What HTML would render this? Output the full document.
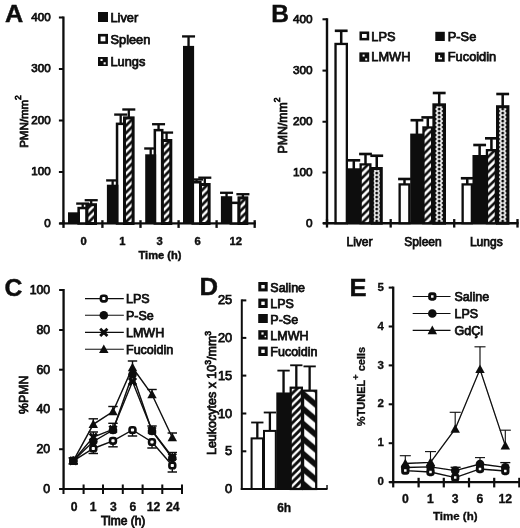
<!DOCTYPE html>
<html lang="en">
<head>
<meta charset="utf-8">
<title>Figure</title>
<style>
html,body{margin:0;padding:0;background:#fff;}
body{width:520px;height:528px;overflow:hidden;}
svg{display:block;}
svg text{font-family:"Liberation Sans", sans-serif;fill:#0a0a0a;}
</style>
</head>
<body>
<svg width="520" height="528" viewBox="0 0 520 528">
<defs>
<filter id="soft" x="-2%" y="-2%" width="104%" height="104%"><feGaussianBlur stdDeviation="0.45"/></filter>
<pattern id="hatchA" patternUnits="userSpaceOnUse" width="7.4" height="7.4">
<rect width="7.4" height="7.4" fill="#fff"/>
<path d="M-1.85 1.85L1.85 -1.85M-1.85 9.25L9.25 -1.85M5.55 9.25L9.25 5.55" stroke="#0a0a0a" stroke-width="2.75"/>
</pattern>
<pattern id="hatchB" patternUnits="userSpaceOnUse" width="7.5" height="7.5">
<rect width="7.5" height="7.5" fill="#fff"/>
<path d="M-1.875 1.875L1.875 -1.875M-1.875 9.375L9.375 -1.875M5.625 9.375L9.375 5.625" stroke="#0a0a0a" stroke-width="2.5"/>
</pattern>
<pattern id="hatchD" patternUnits="userSpaceOnUse" width="7.4" height="7.4" x="291.5" y="2">
<rect width="7.4" height="7.4" fill="#fff"/>
<path d="M-1.85 1.85L1.85 -1.85M-1.85 9.25L9.25 -1.85M5.55 9.25L9.25 5.55" stroke="#0a0a0a" stroke-width="2.8"/>
</pattern>
<pattern id="back" patternUnits="userSpaceOnUse" width="17.6" height="15" x="303" y="378.75">
<rect width="17.6" height="15" fill="#fff"/>
<path d="M-8.8 -7.5L26.4 22.5M-8.8 7.5L8.8 22.5M8.8 -7.5L26.4 7.5" stroke="#0a0a0a" stroke-width="5.6"/>
</pattern>
<pattern id="dots0" patternUnits="userSpaceOnUse" width="8" height="4" x="376.7" y="1">
<rect width="8" height="4" fill="#fff"/>
<circle cx="0" cy="0" r="1.5" fill="#0a0a0a"/><circle cx="8" cy="0" r="1.5" fill="#0a0a0a"/>
<circle cx="0" cy="4" r="1.5" fill="#0a0a0a"/><circle cx="8" cy="4" r="1.5" fill="#0a0a0a"/>
<circle cx="4" cy="2" r="1.5" fill="#0a0a0a"/>
</pattern><pattern id="dots1" patternUnits="userSpaceOnUse" width="8" height="4" x="439.2" y="1">
<rect width="8" height="4" fill="#fff"/>
<circle cx="0" cy="0" r="1.5" fill="#0a0a0a"/><circle cx="8" cy="0" r="1.5" fill="#0a0a0a"/>
<circle cx="0" cy="4" r="1.5" fill="#0a0a0a"/><circle cx="8" cy="4" r="1.5" fill="#0a0a0a"/>
<circle cx="4" cy="2" r="1.5" fill="#0a0a0a"/>
</pattern><pattern id="dots2" patternUnits="userSpaceOnUse" width="8" height="4" x="502.7" y="1">
<rect width="8" height="4" fill="#fff"/>
<circle cx="0" cy="0" r="1.5" fill="#0a0a0a"/><circle cx="8" cy="0" r="1.5" fill="#0a0a0a"/>
<circle cx="0" cy="4" r="1.5" fill="#0a0a0a"/><circle cx="8" cy="4" r="1.5" fill="#0a0a0a"/>
<circle cx="4" cy="2" r="1.5" fill="#0a0a0a"/>
</pattern>
</defs>
<rect width="520" height="528" fill="#fff"/>
<g filter="url(#soft)">
<text transform="translate(5.1 22.1) scale(1.03 1)" font-size="24.5" font-weight="bold" stroke="#0a0a0a" stroke-width="0.4">A</text>
<line x1="63.4" y1="16.5" x2="63.4" y2="224.5" stroke="#0a0a0a" stroke-width="2.3" stroke-linecap="butt"/>
<line x1="59.4" y1="223.3" x2="255.8" y2="223.3" stroke="#0a0a0a" stroke-width="2.3" stroke-linecap="butt"/>
<line x1="58.9" y1="17.5" x2="63.4" y2="17.5" stroke="#0a0a0a" stroke-width="2" stroke-linecap="butt"/>
<text x="50.6" y="20.5" font-size="11.6" text-anchor="end" font-weight="normal" stroke="#0a0a0a" stroke-width="0.75">400</text>
<line x1="58.9" y1="69" x2="63.4" y2="69" stroke="#0a0a0a" stroke-width="2" stroke-linecap="butt"/>
<text x="50.6" y="72.0" font-size="11.6" text-anchor="end" font-weight="normal" stroke="#0a0a0a" stroke-width="0.75">300</text>
<line x1="58.9" y1="120.5" x2="63.4" y2="120.5" stroke="#0a0a0a" stroke-width="2" stroke-linecap="butt"/>
<text x="50.6" y="123.5" font-size="11.6" text-anchor="end" font-weight="normal" stroke="#0a0a0a" stroke-width="0.75">200</text>
<line x1="58.9" y1="172" x2="63.4" y2="172" stroke="#0a0a0a" stroke-width="2" stroke-linecap="butt"/>
<text x="50.6" y="175.0" font-size="11.6" text-anchor="end" font-weight="normal" stroke="#0a0a0a" stroke-width="0.75">100</text>
<line x1="58.9" y1="223.5" x2="63.4" y2="223.5" stroke="#0a0a0a" stroke-width="2" stroke-linecap="butt"/>
<text x="50.6" y="226.5" font-size="11.6" text-anchor="end" font-weight="normal" stroke="#0a0a0a" stroke-width="0.75">0</text>
<line x1="63.5" y1="220.2" x2="63.5" y2="227.9" stroke="#0a0a0a" stroke-width="2.3" stroke-linecap="butt"/>
<line x1="102.4" y1="220.2" x2="102.4" y2="227.9" stroke="#0a0a0a" stroke-width="2.3" stroke-linecap="butt"/>
<line x1="140.5" y1="220.2" x2="140.5" y2="227.9" stroke="#0a0a0a" stroke-width="2.3" stroke-linecap="butt"/>
<line x1="178.6" y1="220.2" x2="178.6" y2="227.9" stroke="#0a0a0a" stroke-width="2.3" stroke-linecap="butt"/>
<line x1="216.6" y1="220.2" x2="216.6" y2="227.9" stroke="#0a0a0a" stroke-width="2.3" stroke-linecap="butt"/>
<line x1="254.7" y1="220.2" x2="254.7" y2="227.9" stroke="#0a0a0a" stroke-width="2.3" stroke-linecap="butt"/>
<text x="83.5" y="244.6" font-size="11.2" text-anchor="middle" font-weight="bold" stroke="#0a0a0a" stroke-width="0.4">0</text>
<text x="122.3" y="244.6" font-size="11.2" text-anchor="middle" font-weight="bold" stroke="#0a0a0a" stroke-width="0.4">1</text>
<text x="159.5" y="244.6" font-size="11.2" text-anchor="middle" font-weight="bold" stroke="#0a0a0a" stroke-width="0.4">3</text>
<text x="197.5" y="244.6" font-size="11.2" text-anchor="middle" font-weight="bold" stroke="#0a0a0a" stroke-width="0.4">6</text>
<text x="235.8" y="244.6" font-size="11.2" text-anchor="middle" font-weight="bold" stroke="#0a0a0a" stroke-width="0.4">12</text>
<text x="160" y="258.8" font-size="11.1" text-anchor="middle" font-weight="bold" stroke="#0a0a0a" stroke-width="0.4">Time (h)</text>
<text x="27.5" y="121.5" font-size="11.5" text-anchor="middle" font-weight="normal" stroke="#0a0a0a" stroke-width="0.75" transform="rotate(-90 27.5 121.5)">PMN/mm<tspan font-size="8.5" dy="-6.5">2</tspan></text>
<line x1="82.7" y1="207.8" x2="82.7" y2="203.6" stroke="#0a0a0a" stroke-width="2.3" stroke-linecap="butt"/>
<line x1="76.2" y1="203.6" x2="89.2" y2="203.6" stroke="#0a0a0a" stroke-width="2.3" stroke-linecap="butt"/>
<line x1="91.2" y1="204.2" x2="91.2" y2="200.2" stroke="#0a0a0a" stroke-width="2.3" stroke-linecap="butt"/>
<line x1="84.7" y1="200.2" x2="97.7" y2="200.2" stroke="#0a0a0a" stroke-width="2.3" stroke-linecap="butt"/>
<rect x="78.65" y="208.05" width="8.10" height="15.45" fill="#fff" stroke="#0a0a0a" stroke-width="2.5"/>
<rect x="68.00" y="212.30" width="12.00" height="11.20" fill="#0a0a0a"/>
<rect x="86.90" y="204.70" width="8.60" height="18.80" fill="url(#hatchA)" stroke="#0a0a0a" stroke-width="3.0"/>
<line x1="112.65" y1="185.7" x2="112.65" y2="180.4" stroke="#0a0a0a" stroke-width="2.3" stroke-linecap="butt"/>
<line x1="106.15" y1="180.4" x2="119.15" y2="180.4" stroke="#0a0a0a" stroke-width="2.3" stroke-linecap="butt"/>
<line x1="120.7" y1="123.6" x2="120.7" y2="114.6" stroke="#0a0a0a" stroke-width="2.3" stroke-linecap="butt"/>
<line x1="114.2" y1="114.6" x2="127.2" y2="114.6" stroke="#0a0a0a" stroke-width="2.3" stroke-linecap="butt"/>
<line x1="128.8" y1="117.4" x2="128.8" y2="109.5" stroke="#0a0a0a" stroke-width="2.3" stroke-linecap="butt"/>
<line x1="122.30000000000001" y1="109.5" x2="135.3" y2="109.5" stroke="#0a0a0a" stroke-width="2.3" stroke-linecap="butt"/>
<rect x="117.05" y="123.85" width="7.30" height="99.65" fill="#fff" stroke="#0a0a0a" stroke-width="2.5"/>
<rect x="106.90" y="184.70" width="11.50" height="38.80" fill="#0a0a0a"/>
<rect x="124.50" y="117.90" width="8.60" height="105.60" fill="url(#hatchA)" stroke="#0a0a0a" stroke-width="3.0"/>
<line x1="150.7" y1="155.3" x2="150.7" y2="148.5" stroke="#0a0a0a" stroke-width="2.3" stroke-linecap="butt"/>
<line x1="144.2" y1="148.5" x2="157.2" y2="148.5" stroke="#0a0a0a" stroke-width="2.3" stroke-linecap="butt"/>
<line x1="158.55" y1="129.9" x2="158.55" y2="124.2" stroke="#0a0a0a" stroke-width="2.3" stroke-linecap="butt"/>
<line x1="152.05" y1="124.2" x2="165.05" y2="124.2" stroke="#0a0a0a" stroke-width="2.3" stroke-linecap="butt"/>
<line x1="166.60000000000002" y1="140.0" x2="166.60000000000002" y2="132.6" stroke="#0a0a0a" stroke-width="2.3" stroke-linecap="butt"/>
<line x1="160.10000000000002" y1="132.6" x2="173.10000000000002" y2="132.6" stroke="#0a0a0a" stroke-width="2.3" stroke-linecap="butt"/>
<rect x="154.85" y="130.15" width="7.40" height="93.35" fill="#fff" stroke="#0a0a0a" stroke-width="2.5"/>
<rect x="145.20" y="154.30" width="11.00" height="69.20" fill="#0a0a0a"/>
<rect x="162.40" y="140.50" width="8.40" height="83.00" fill="url(#hatchA)" stroke="#0a0a0a" stroke-width="3.0"/>
<line x1="188.55" y1="46.9" x2="188.55" y2="36.4" stroke="#0a0a0a" stroke-width="2.3" stroke-linecap="butt"/>
<line x1="182.05" y1="36.4" x2="195.05" y2="36.4" stroke="#0a0a0a" stroke-width="2.3" stroke-linecap="butt"/>
<line x1="196.55" y1="182.0" x2="196.55" y2="179.5" stroke="#0a0a0a" stroke-width="2.3" stroke-linecap="butt"/>
<line x1="190.05" y1="179.5" x2="203.05" y2="179.5" stroke="#0a0a0a" stroke-width="2.3" stroke-linecap="butt"/>
<line x1="204.8" y1="184.0" x2="204.8" y2="177.7" stroke="#0a0a0a" stroke-width="2.3" stroke-linecap="butt"/>
<line x1="198.3" y1="177.7" x2="211.3" y2="177.7" stroke="#0a0a0a" stroke-width="2.3" stroke-linecap="butt"/>
<rect x="192.75" y="182.25" width="7.60" height="41.25" fill="#fff" stroke="#0a0a0a" stroke-width="2.5"/>
<rect x="183.00" y="45.90" width="11.10" height="177.60" fill="#0a0a0a"/>
<rect x="200.50" y="184.50" width="8.60" height="39.00" fill="url(#hatchA)" stroke="#0a0a0a" stroke-width="3.0"/>
<line x1="226.55" y1="197.2" x2="226.55" y2="192.8" stroke="#0a0a0a" stroke-width="2.3" stroke-linecap="butt"/>
<line x1="220.05" y1="192.8" x2="233.05" y2="192.8" stroke="#0a0a0a" stroke-width="2.3" stroke-linecap="butt"/>
<line x1="242.9" y1="197.4" x2="242.9" y2="194.2" stroke="#0a0a0a" stroke-width="2.3" stroke-linecap="butt"/>
<line x1="236.4" y1="194.2" x2="249.4" y2="194.2" stroke="#0a0a0a" stroke-width="2.3" stroke-linecap="butt"/>
<rect x="230.85" y="202.85" width="8.00" height="20.65" fill="#fff" stroke="#0a0a0a" stroke-width="2.5"/>
<rect x="220.90" y="196.20" width="11.30" height="27.30" fill="#0a0a0a"/>
<rect x="239.00" y="197.90" width="7.80" height="25.60" fill="url(#hatchA)" stroke="#0a0a0a" stroke-width="3.0"/>
<rect x="98.00" y="12.00" width="10.00" height="10.00" fill="#0a0a0a"/>
<rect x="99.30" y="35.20" width="7.40" height="7.40" fill="#fff" stroke="#0a0a0a" stroke-width="2.6"/>
<rect x="98.00" y="57.00" width="9.80" height="9.00" fill="#0a0a0a"/>
<rect x="100.50" y="58.90" width="2.10" height="2.10" fill="#fff"/>
<rect x="103.60" y="62.30" width="2.10" height="2.10" fill="#fff"/>
<text x="110.5" y="21.7" font-size="12.8" text-anchor="start" font-weight="normal" stroke="#0a0a0a" stroke-width="0.75">Liver</text>
<text x="110.5" y="43.8" font-size="12.8" text-anchor="start" font-weight="normal" stroke="#0a0a0a" stroke-width="0.75">Spleen</text>
<text x="110.5" y="66.2" font-size="12.8" text-anchor="start" font-weight="normal" stroke="#0a0a0a" stroke-width="0.75">Lungs</text>
<text transform="translate(271.3 22.2) scale(1.0 1)" font-size="24.5" font-weight="bold" stroke="#0a0a0a" stroke-width="0.4">B</text>
<line x1="327" y1="18.2" x2="327" y2="224.25" stroke="#0a0a0a" stroke-width="2.4" stroke-linecap="butt"/>
<line x1="323" y1="223.25" x2="518.6" y2="223.25" stroke="#0a0a0a" stroke-width="2.3" stroke-linecap="butt"/>
<line x1="322.5" y1="19.3" x2="327" y2="19.3" stroke="#0a0a0a" stroke-width="2" stroke-linecap="butt"/>
<text x="312.6" y="22.6" font-size="11.8" text-anchor="end" font-weight="normal" stroke="#0a0a0a" stroke-width="0.75">400</text>
<line x1="322.5" y1="70.6" x2="327" y2="70.6" stroke="#0a0a0a" stroke-width="2" stroke-linecap="butt"/>
<text x="312.6" y="73.89999999999999" font-size="11.8" text-anchor="end" font-weight="normal" stroke="#0a0a0a" stroke-width="0.75">300</text>
<line x1="322.5" y1="121.75" x2="327" y2="121.75" stroke="#0a0a0a" stroke-width="2" stroke-linecap="butt"/>
<text x="312.6" y="125.05" font-size="11.8" text-anchor="end" font-weight="normal" stroke="#0a0a0a" stroke-width="0.75">200</text>
<line x1="322.5" y1="172.5" x2="327" y2="172.5" stroke="#0a0a0a" stroke-width="2" stroke-linecap="butt"/>
<text x="312.6" y="175.8" font-size="11.8" text-anchor="end" font-weight="normal" stroke="#0a0a0a" stroke-width="0.75">100</text>
<line x1="322.5" y1="223.25" x2="327" y2="223.25" stroke="#0a0a0a" stroke-width="2" stroke-linecap="butt"/>
<text x="312.6" y="226.55" font-size="11.8" text-anchor="end" font-weight="normal" stroke="#0a0a0a" stroke-width="0.75">0</text>
<line x1="327" y1="219.05" x2="327" y2="227.55" stroke="#0a0a0a" stroke-width="2.3" stroke-linecap="butt"/>
<line x1="390.7" y1="219.05" x2="390.7" y2="227.55" stroke="#0a0a0a" stroke-width="2.3" stroke-linecap="butt"/>
<line x1="454.2" y1="219.05" x2="454.2" y2="227.55" stroke="#0a0a0a" stroke-width="2.3" stroke-linecap="butt"/>
<line x1="517.5" y1="219.05" x2="517.5" y2="227.55" stroke="#0a0a0a" stroke-width="2.3" stroke-linecap="butt"/>
<text x="359.5" y="245.7" font-size="12" text-anchor="middle" font-weight="normal" stroke="#0a0a0a" stroke-width="0.75">Liver</text>
<text x="423" y="245.7" font-size="12" text-anchor="middle" font-weight="normal" stroke="#0a0a0a" stroke-width="0.75">Spleen</text>
<text x="486.3" y="245.7" font-size="12" text-anchor="middle" font-weight="normal" stroke="#0a0a0a" stroke-width="0.75">Lungs</text>
<text x="286.7" y="125.5" font-size="12.3" text-anchor="middle" font-weight="normal" stroke="#0a0a0a" stroke-width="0.75" transform="rotate(-90 286.7 125.5)">PMN/mm<tspan font-size="8.5" dy="-6.5">2</tspan></text>
<line x1="341.2" y1="43.8" x2="341.2" y2="30.8" stroke="#0a0a0a" stroke-width="2.5" stroke-linecap="butt"/>
<line x1="334.8" y1="30.8" x2="347.59999999999997" y2="30.8" stroke="#0a0a0a" stroke-width="2.6" stroke-linecap="butt"/>
<line x1="353.8" y1="169.25" x2="353.8" y2="160.3" stroke="#0a0a0a" stroke-width="2.5" stroke-linecap="butt"/>
<line x1="347.40000000000003" y1="160.3" x2="360.2" y2="160.3" stroke="#0a0a0a" stroke-width="2.6" stroke-linecap="butt"/>
<line x1="365.5" y1="164.25" x2="365.5" y2="154" stroke="#0a0a0a" stroke-width="2.5" stroke-linecap="butt"/>
<line x1="359.1" y1="154" x2="371.9" y2="154" stroke="#0a0a0a" stroke-width="2.6" stroke-linecap="butt"/>
<line x1="376.75" y1="168" x2="376.75" y2="155.75" stroke="#0a0a0a" stroke-width="2.5" stroke-linecap="butt"/>
<line x1="370.35" y1="155.75" x2="383.15" y2="155.75" stroke="#0a0a0a" stroke-width="2.6" stroke-linecap="butt"/>
<rect x="335.55" y="43.95" width="11.30" height="179.30" fill="#fff" stroke="#0a0a0a" stroke-width="2.3"/>
<rect x="346.80" y="168.25" width="14.00" height="55.00" fill="#0a0a0a"/>
<rect x="360.65" y="164.40" width="9.70" height="58.85" fill="url(#hatchB)" stroke="#0a0a0a" stroke-width="2.3"/>
<rect x="372.20" y="168.50" width="9.10" height="54.75" fill="url(#dots0)" stroke="#0a0a0a" stroke-width="3.0"/>
<line x1="404.5" y1="184.25" x2="404.5" y2="179" stroke="#0a0a0a" stroke-width="2.5" stroke-linecap="butt"/>
<line x1="398.1" y1="179" x2="410.9" y2="179" stroke="#0a0a0a" stroke-width="2.6" stroke-linecap="butt"/>
<line x1="416.95" y1="134.6" x2="416.95" y2="120.2" stroke="#0a0a0a" stroke-width="2.5" stroke-linecap="butt"/>
<line x1="410.55" y1="120.2" x2="423.34999999999997" y2="120.2" stroke="#0a0a0a" stroke-width="2.6" stroke-linecap="butt"/>
<line x1="427.8" y1="127.3" x2="427.8" y2="117.4" stroke="#0a0a0a" stroke-width="2.5" stroke-linecap="butt"/>
<line x1="421.40000000000003" y1="117.4" x2="434.2" y2="117.4" stroke="#0a0a0a" stroke-width="2.6" stroke-linecap="butt"/>
<line x1="439.2" y1="104.3" x2="439.2" y2="93" stroke="#0a0a0a" stroke-width="2.5" stroke-linecap="butt"/>
<line x1="432.8" y1="93" x2="445.59999999999997" y2="93" stroke="#0a0a0a" stroke-width="2.6" stroke-linecap="butt"/>
<rect x="399.65" y="184.40" width="9.70" height="38.85" fill="#fff" stroke="#0a0a0a" stroke-width="2.3"/>
<rect x="410.20" y="133.60" width="13.50" height="89.65" fill="#0a0a0a"/>
<rect x="423.45" y="127.45" width="8.70" height="95.80" fill="url(#hatchB)" stroke="#0a0a0a" stroke-width="2.3"/>
<rect x="433.90" y="104.80" width="10.60" height="118.45" fill="url(#dots1)" stroke="#0a0a0a" stroke-width="3.0"/>
<line x1="467.25" y1="184.25" x2="467.25" y2="178.25" stroke="#0a0a0a" stroke-width="2.5" stroke-linecap="butt"/>
<line x1="460.85" y1="178.25" x2="473.65" y2="178.25" stroke="#0a0a0a" stroke-width="2.6" stroke-linecap="butt"/>
<line x1="479.65" y1="156" x2="479.65" y2="145" stroke="#0a0a0a" stroke-width="2.5" stroke-linecap="butt"/>
<line x1="473.25" y1="145" x2="486.04999999999995" y2="145" stroke="#0a0a0a" stroke-width="2.6" stroke-linecap="butt"/>
<line x1="491.4" y1="150" x2="491.4" y2="138.3" stroke="#0a0a0a" stroke-width="2.5" stroke-linecap="butt"/>
<line x1="485.0" y1="138.3" x2="497.79999999999995" y2="138.3" stroke="#0a0a0a" stroke-width="2.6" stroke-linecap="butt"/>
<line x1="502.7" y1="106.2" x2="502.7" y2="94" stroke="#0a0a0a" stroke-width="2.5" stroke-linecap="butt"/>
<line x1="496.3" y1="94" x2="509.09999999999997" y2="94" stroke="#0a0a0a" stroke-width="2.6" stroke-linecap="butt"/>
<rect x="462.65" y="184.40" width="9.20" height="38.85" fill="#fff" stroke="#0a0a0a" stroke-width="2.3"/>
<rect x="472.50" y="155.00" width="14.30" height="68.25" fill="#0a0a0a"/>
<rect x="486.95" y="150.15" width="8.90" height="73.10" fill="url(#hatchB)" stroke="#0a0a0a" stroke-width="2.3"/>
<rect x="497.50" y="106.70" width="10.40" height="116.55" fill="url(#dots2)" stroke="#0a0a0a" stroke-width="3.0"/>
<rect x="360.75" y="32.75" width="7.20" height="6.40" fill="#fff" stroke="#0a0a0a" stroke-width="2.5"/>
<rect x="359.40" y="52.40" width="9.80" height="9.40" fill="#0a0a0a"/>
<rect x="362.60" y="54.60" width="2.00" height="2.00" fill="#fff"/>
<rect x="365.20" y="58.40" width="2.00" height="2.00" fill="#fff"/>
<rect x="435.30" y="31.80" width="9.50" height="9.20" fill="#0a0a0a"/>
<rect x="435.10" y="52.50" width="9.60" height="9.30" fill="#0a0a0a"/>
<rect x="438.40" y="55.00" width="1.70" height="4.00" fill="#fff"/>
<rect x="438.40" y="57.60" width="3.60" height="1.70" fill="#fff"/>
<text x="371.3" y="41" font-size="12.8" text-anchor="start" font-weight="normal" stroke="#0a0a0a" stroke-width="0.75">LPS</text>
<text x="371.3" y="61.3" font-size="12.8" text-anchor="start" font-weight="normal" stroke="#0a0a0a" stroke-width="0.75">LMWH</text>
<text x="447.8" y="41" font-size="12.8" text-anchor="start" font-weight="normal" stroke="#0a0a0a" stroke-width="0.75">P-Se</text>
<text x="447.8" y="61.2" font-size="12.8" text-anchor="start" font-weight="normal" stroke="#0a0a0a" stroke-width="0.75">Fucoidin</text>
<text transform="translate(4.5 296.3) scale(1.0 1)" font-size="24.8" font-weight="bold" stroke="#0a0a0a" stroke-width="0.4">C</text>
<line x1="63.6" y1="289" x2="63.6" y2="490" stroke="#0a0a0a" stroke-width="2.3" stroke-linecap="butt"/>
<line x1="59.6" y1="489" x2="183" y2="489" stroke="#0a0a0a" stroke-width="2" stroke-linecap="butt"/>
<line x1="59.1" y1="290" x2="63.6" y2="290" stroke="#0a0a0a" stroke-width="2" stroke-linecap="butt"/>
<text x="50.2" y="293.9" font-size="12.3" text-anchor="end" font-weight="normal" stroke="#0a0a0a" stroke-width="0.75">100</text>
<line x1="59.1" y1="330" x2="63.6" y2="330" stroke="#0a0a0a" stroke-width="2" stroke-linecap="butt"/>
<text x="50.2" y="333.9" font-size="12.3" text-anchor="end" font-weight="normal" stroke="#0a0a0a" stroke-width="0.75">80</text>
<line x1="59.1" y1="369.7" x2="63.6" y2="369.7" stroke="#0a0a0a" stroke-width="2" stroke-linecap="butt"/>
<text x="50.2" y="373.59999999999997" font-size="12.3" text-anchor="end" font-weight="normal" stroke="#0a0a0a" stroke-width="0.75">60</text>
<line x1="59.1" y1="409.3" x2="63.6" y2="409.3" stroke="#0a0a0a" stroke-width="2" stroke-linecap="butt"/>
<text x="50.2" y="413.2" font-size="12.3" text-anchor="end" font-weight="normal" stroke="#0a0a0a" stroke-width="0.75">40</text>
<line x1="59.1" y1="449.2" x2="63.6" y2="449.2" stroke="#0a0a0a" stroke-width="2" stroke-linecap="butt"/>
<text x="50.2" y="453.09999999999997" font-size="12.3" text-anchor="end" font-weight="normal" stroke="#0a0a0a" stroke-width="0.75">20</text>
<line x1="59.1" y1="489" x2="63.6" y2="489" stroke="#0a0a0a" stroke-width="2" stroke-linecap="butt"/>
<text x="50.2" y="492.9" font-size="12.3" text-anchor="end" font-weight="normal" stroke="#0a0a0a" stroke-width="0.75">0</text>
<line x1="83.6" y1="484.5" x2="83.6" y2="494" stroke="#0a0a0a" stroke-width="2" stroke-linecap="butt"/>
<line x1="103" y1="484.5" x2="103" y2="494" stroke="#0a0a0a" stroke-width="2" stroke-linecap="butt"/>
<line x1="122.8" y1="484.5" x2="122.8" y2="494" stroke="#0a0a0a" stroke-width="2" stroke-linecap="butt"/>
<line x1="142.6" y1="484.5" x2="142.6" y2="494" stroke="#0a0a0a" stroke-width="2" stroke-linecap="butt"/>
<line x1="162.3" y1="484.5" x2="162.3" y2="494" stroke="#0a0a0a" stroke-width="2" stroke-linecap="butt"/>
<line x1="182" y1="484.5" x2="182" y2="494" stroke="#0a0a0a" stroke-width="2" stroke-linecap="butt"/>
<line x1="63.5" y1="489" x2="63.5" y2="494" stroke="#0a0a0a" stroke-width="2" stroke-linecap="butt"/>
<text x="74.2" y="511.4" font-size="12.2" text-anchor="middle" font-weight="bold" stroke="#0a0a0a" stroke-width="0.3">0</text>
<text x="93.2" y="511.4" font-size="12.2" text-anchor="middle" font-weight="bold" stroke="#0a0a0a" stroke-width="0.3">1</text>
<text x="113.3" y="511.4" font-size="12.2" text-anchor="middle" font-weight="bold" stroke="#0a0a0a" stroke-width="0.3">3</text>
<text x="133" y="511.4" font-size="12.2" text-anchor="middle" font-weight="bold" stroke="#0a0a0a" stroke-width="0.3">6</text>
<text x="153.5" y="511.4" font-size="12.2" text-anchor="middle" font-weight="bold" stroke="#0a0a0a" stroke-width="0.3">12</text>
<text x="172.7" y="511.4" font-size="12.2" text-anchor="middle" font-weight="bold" stroke="#0a0a0a" stroke-width="0.3">24</text>
<text x="123.2" y="524.5" font-size="12" text-anchor="middle" font-weight="normal" stroke="#0a0a0a" stroke-width="0.8">Time (h)</text>
<text x="28.5" y="394.8" font-size="12.3" text-anchor="middle" font-weight="normal" stroke="#0a0a0a" stroke-width="0.75" transform="rotate(-90 28.5 394.8)">%PMN</text>
<line x1="73.3" y1="457.8" x2="73.3" y2="463.8" stroke="#0a0a0a" stroke-width="1.4" stroke-linecap="butt"/>
<line x1="68.6" y1="457.8" x2="78.0" y2="457.8" stroke="#0a0a0a" stroke-width="1.4" stroke-linecap="butt"/>
<line x1="68.6" y1="463.8" x2="78.0" y2="463.8" stroke="#0a0a0a" stroke-width="1.4" stroke-linecap="butt"/>
<line x1="93.3" y1="448.5" x2="93.3" y2="453.5" stroke="#0a0a0a" stroke-width="1.4" stroke-linecap="butt"/>
<line x1="88.6" y1="453.5" x2="98.0" y2="453.5" stroke="#0a0a0a" stroke-width="1.4" stroke-linecap="butt"/>
<line x1="113" y1="440.8" x2="113" y2="446.8" stroke="#0a0a0a" stroke-width="1.4" stroke-linecap="butt"/>
<line x1="108.3" y1="446.8" x2="117.7" y2="446.8" stroke="#0a0a0a" stroke-width="1.4" stroke-linecap="butt"/>
<line x1="132.5" y1="430" x2="132.5" y2="436" stroke="#0a0a0a" stroke-width="1.4" stroke-linecap="butt"/>
<line x1="127.8" y1="436" x2="137.2" y2="436" stroke="#0a0a0a" stroke-width="1.4" stroke-linecap="butt"/>
<line x1="152" y1="442" x2="152" y2="448" stroke="#0a0a0a" stroke-width="1.4" stroke-linecap="butt"/>
<line x1="147.3" y1="448" x2="156.7" y2="448" stroke="#0a0a0a" stroke-width="1.4" stroke-linecap="butt"/>
<line x1="172.3" y1="465.5" x2="172.3" y2="472.0" stroke="#0a0a0a" stroke-width="1.4" stroke-linecap="butt"/>
<line x1="167.60000000000002" y1="472.0" x2="177.0" y2="472.0" stroke="#0a0a0a" stroke-width="1.4" stroke-linecap="butt"/>
<line x1="73.3" y1="460.8" x2="73.3" y2="460.8" stroke="#0a0a0a" stroke-width="1.4" stroke-linecap="butt"/>
<line x1="93.3" y1="418.8" x2="93.3" y2="424.3" stroke="#0a0a0a" stroke-width="1.4" stroke-linecap="butt"/>
<line x1="88.6" y1="418.8" x2="98.0" y2="418.8" stroke="#0a0a0a" stroke-width="1.4" stroke-linecap="butt"/>
<line x1="113" y1="406.5" x2="113" y2="411.5" stroke="#0a0a0a" stroke-width="1.4" stroke-linecap="butt"/>
<line x1="108.3" y1="406.5" x2="117.7" y2="406.5" stroke="#0a0a0a" stroke-width="1.4" stroke-linecap="butt"/>
<line x1="132.5" y1="361.0" x2="132.5" y2="367.5" stroke="#0a0a0a" stroke-width="1.4" stroke-linecap="butt"/>
<line x1="127.8" y1="361.0" x2="137.2" y2="361.0" stroke="#0a0a0a" stroke-width="1.4" stroke-linecap="butt"/>
<line x1="152" y1="389.5" x2="152" y2="394.5" stroke="#0a0a0a" stroke-width="1.4" stroke-linecap="butt"/>
<line x1="147.3" y1="389.5" x2="156.7" y2="389.5" stroke="#0a0a0a" stroke-width="1.4" stroke-linecap="butt"/>
<line x1="172.3" y1="433.0" x2="172.3" y2="437.5" stroke="#0a0a0a" stroke-width="1.4" stroke-linecap="butt"/>
<line x1="167.60000000000002" y1="433.0" x2="177.0" y2="433.0" stroke="#0a0a0a" stroke-width="1.4" stroke-linecap="butt"/>
<line x1="73.3" y1="460.8" x2="73.3" y2="460.8" stroke="#0a0a0a" stroke-width="1.4" stroke-linecap="butt"/>
<line x1="93.3" y1="432" x2="93.3" y2="437" stroke="#0a0a0a" stroke-width="1.4" stroke-linecap="butt"/>
<line x1="88.6" y1="432" x2="98.0" y2="432" stroke="#0a0a0a" stroke-width="1.4" stroke-linecap="butt"/>
<line x1="113" y1="423.3" x2="113" y2="429.3" stroke="#0a0a0a" stroke-width="1.4" stroke-linecap="butt"/>
<line x1="108.3" y1="423.3" x2="117.7" y2="423.3" stroke="#0a0a0a" stroke-width="1.4" stroke-linecap="butt"/>
<line x1="132.5" y1="381.5" x2="132.5" y2="381.5" stroke="#0a0a0a" stroke-width="1.4" stroke-linecap="butt"/>
<line x1="152" y1="426.0" x2="152" y2="430.5" stroke="#0a0a0a" stroke-width="1.4" stroke-linecap="butt"/>
<line x1="147.3" y1="426.0" x2="156.7" y2="426.0" stroke="#0a0a0a" stroke-width="1.4" stroke-linecap="butt"/>
<line x1="172.3" y1="452.5" x2="172.3" y2="457" stroke="#0a0a0a" stroke-width="1.4" stroke-linecap="butt"/>
<line x1="167.60000000000002" y1="452.5" x2="177.0" y2="452.5" stroke="#0a0a0a" stroke-width="1.4" stroke-linecap="butt"/>
<polyline points="73.3,460.8 93.3,448.5 113,440.8 132.5,430 152,442 172.3,465.5" fill="none" stroke="#0a0a0a" stroke-width="1.4"/>
<polyline points="73.3,460.8 93.3,441.5 113,430 132.5,374.5 152,431 172.3,458" fill="none" stroke="#0a0a0a" stroke-width="1.4"/>
<polyline points="73.3,460.8 93.3,437 113,429.3 132.5,381.5 152,430.5 172.3,457" fill="none" stroke="#0a0a0a" stroke-width="1.4"/>
<polyline points="73.3,460.8 93.3,424.3 113,411.5 132.5,367.5 152,394.5 172.3,437.5" fill="none" stroke="#0a0a0a" stroke-width="1.4"/>
<rect x="70.39999999999999" y="458.0" width="5.8" height="5.6" rx="2.1" fill="#fff" stroke="#0a0a0a" stroke-width="2.6"/>
<rect x="90.39999999999999" y="445.7" width="5.8" height="5.6" rx="2.1" fill="#fff" stroke="#0a0a0a" stroke-width="2.6"/>
<rect x="110.1" y="438.0" width="5.8" height="5.6" rx="2.1" fill="#fff" stroke="#0a0a0a" stroke-width="2.6"/>
<rect x="129.6" y="427.2" width="5.8" height="5.6" rx="2.1" fill="#fff" stroke="#0a0a0a" stroke-width="2.6"/>
<rect x="149.1" y="439.2" width="5.8" height="5.6" rx="2.1" fill="#fff" stroke="#0a0a0a" stroke-width="2.6"/>
<rect x="169.4" y="462.7" width="5.8" height="5.6" rx="2.1" fill="#fff" stroke="#0a0a0a" stroke-width="2.6"/>
<path d="M73.3 456.0L78.0 464.6L68.6 464.6Z" fill="#0a0a0a"/>
<path d="M93.3 419.5L98.0 428.1L88.6 428.1Z" fill="#0a0a0a"/>
<path d="M113 406.7L117.7 415.3L108.3 415.3Z" fill="#0a0a0a"/>
<path d="M132.5 362.7L137.2 371.3L127.8 371.3Z" fill="#0a0a0a"/>
<path d="M152 389.7L156.7 398.3L147.3 398.3Z" fill="#0a0a0a"/>
<path d="M172.3 432.7L177.0 441.3L167.60000000000002 441.3Z" fill="#0a0a0a"/>
<circle cx="73.3" cy="460.8" r="4.3" fill="#0a0a0a"/>
<circle cx="93.3" cy="441.5" r="4.3" fill="#0a0a0a"/>
<circle cx="113" cy="430" r="4.3" fill="#0a0a0a"/>
<circle cx="132.5" cy="374.5" r="4.3" fill="#0a0a0a"/>
<circle cx="152" cy="431" r="4.3" fill="#0a0a0a"/>
<circle cx="172.3" cy="458" r="4.3" fill="#0a0a0a"/>
<path d="M69.7 457.2L76.89999999999999 464.40000000000003M69.7 464.40000000000003L76.89999999999999 457.2" stroke="#0a0a0a" stroke-width="2.8" fill="none"/>
<rect x="71.1" y="458.6" width="4.4" height="4.4" fill="#0a0a0a"/>
<path d="M89.7 433.4L96.89999999999999 440.6M89.7 440.6L96.89999999999999 433.4" stroke="#0a0a0a" stroke-width="2.8" fill="none"/>
<rect x="91.1" y="434.8" width="4.4" height="4.4" fill="#0a0a0a"/>
<path d="M109.4 425.7L116.6 432.90000000000003M109.4 432.90000000000003L116.6 425.7" stroke="#0a0a0a" stroke-width="2.8" fill="none"/>
<rect x="110.8" y="427.1" width="4.4" height="4.4" fill="#0a0a0a"/>
<path d="M128.9 377.9L136.1 385.1M128.9 385.1L136.1 377.9" stroke="#0a0a0a" stroke-width="2.8" fill="none"/>
<rect x="130.3" y="379.3" width="4.4" height="4.4" fill="#0a0a0a"/>
<path d="M148.4 426.9L155.6 434.1M148.4 434.1L155.6 426.9" stroke="#0a0a0a" stroke-width="2.8" fill="none"/>
<rect x="149.8" y="428.3" width="4.4" height="4.4" fill="#0a0a0a"/>
<path d="M168.70000000000002 453.4L175.9 460.6M168.70000000000002 460.6L175.9 453.4" stroke="#0a0a0a" stroke-width="2.8" fill="none"/>
<rect x="170.10000000000002" y="454.8" width="4.4" height="4.4" fill="#0a0a0a"/>
<line x1="85" y1="298.6" x2="123.8" y2="298.6" stroke="#0a0a0a" stroke-width="1.1" stroke-linecap="butt"/>
<rect x="100.89999999999999" y="295.8" width="5.8" height="5.6" rx="2.1" fill="#fff" stroke="#0a0a0a" stroke-width="2.6"/>
<text x="126" y="303.0" font-size="12.5" text-anchor="start" font-weight="normal" stroke="#0a0a0a" stroke-width="0.75">LPS</text>
<line x1="85" y1="315.2" x2="123.8" y2="315.2" stroke="#0a0a0a" stroke-width="1.1" stroke-linecap="butt"/>
<circle cx="103.8" cy="315.2" r="4.3" fill="#0a0a0a"/>
<text x="126" y="319.59999999999997" font-size="12.5" text-anchor="start" font-weight="normal" stroke="#0a0a0a" stroke-width="0.75">P-Se</text>
<line x1="85" y1="332.4" x2="123.8" y2="332.4" stroke="#0a0a0a" stroke-width="1.1" stroke-linecap="butt"/>
<path d="M100.2 328.79999999999995L107.39999999999999 336.0M100.2 336.0L107.39999999999999 328.79999999999995" stroke="#0a0a0a" stroke-width="2.8" fill="none"/>
<rect x="101.6" y="330.2" width="4.4" height="4.4" fill="#0a0a0a"/>
<text x="126" y="336.79999999999995" font-size="12.5" text-anchor="start" font-weight="normal" stroke="#0a0a0a" stroke-width="0.75">LMWH</text>
<line x1="85" y1="349.3" x2="123.8" y2="349.3" stroke="#0a0a0a" stroke-width="1.1" stroke-linecap="butt"/>
<path d="M103.8 344.5L108.5 353.1L99.1 353.1Z" fill="#0a0a0a"/>
<text x="126" y="353.7" font-size="12.5" text-anchor="start" font-weight="normal" stroke="#0a0a0a" stroke-width="0.75">Fucoidin</text>
<text transform="translate(199.5 295.3) scale(1.07 1)" font-size="24" font-weight="bold" stroke="#0a0a0a" stroke-width="0.4">D</text>
<line x1="241.8" y1="299.4" x2="241.8" y2="490.0" stroke="#0a0a0a" stroke-width="2" stroke-linecap="butt"/>
<line x1="240.8" y1="489.0" x2="327.5" y2="489.0" stroke="#0a0a0a" stroke-width="1.8" stroke-linecap="butt"/>
<line x1="327" y1="485.0" x2="327" y2="489.0" stroke="#0a0a0a" stroke-width="1.4" stroke-linecap="butt"/>
<line x1="241.8" y1="300.4" x2="246.3" y2="300.4" stroke="#0a0a0a" stroke-width="2" stroke-linecap="butt"/>
<text x="232.2" y="304.4" font-size="12.8" text-anchor="end" font-weight="normal" stroke="#0a0a0a" stroke-width="0.75">25</text>
<line x1="241.8" y1="337.9" x2="246.3" y2="337.9" stroke="#0a0a0a" stroke-width="2" stroke-linecap="butt"/>
<text x="232.2" y="341.9" font-size="12.8" text-anchor="end" font-weight="normal" stroke="#0a0a0a" stroke-width="0.75">20</text>
<line x1="241.8" y1="375.6" x2="246.3" y2="375.6" stroke="#0a0a0a" stroke-width="2" stroke-linecap="butt"/>
<text x="232.2" y="379.6" font-size="12.8" text-anchor="end" font-weight="normal" stroke="#0a0a0a" stroke-width="0.75">15</text>
<line x1="241.8" y1="413.5" x2="246.3" y2="413.5" stroke="#0a0a0a" stroke-width="2" stroke-linecap="butt"/>
<text x="232.2" y="417.5" font-size="12.8" text-anchor="end" font-weight="normal" stroke="#0a0a0a" stroke-width="0.75">10</text>
<line x1="241.8" y1="451.3" x2="246.3" y2="451.3" stroke="#0a0a0a" stroke-width="2" stroke-linecap="butt"/>
<text x="232.2" y="455.3" font-size="12.8" text-anchor="end" font-weight="normal" stroke="#0a0a0a" stroke-width="0.75">5</text>
<text x="232.2" y="493.0" font-size="12.8" text-anchor="end" font-weight="normal" stroke="#0a0a0a" stroke-width="0.75">0</text>
<text x="284.2" y="512" font-size="12" text-anchor="middle" font-weight="bold" stroke="#0a0a0a" stroke-width="0.3">6h</text>
<text x="215.5" y="393" font-size="12.5" text-anchor="middle" font-weight="normal" stroke="#0a0a0a" stroke-width="0.75" transform="rotate(-90 215.5 393)">Leukocytes x 10<tspan font-size="8.5" dy="-4.5">3</tspan><tspan dy="4.5">/mm</tspan><tspan font-size="8.5" dy="-4.5">3</tspan></text>
<line x1="257.3" y1="438.4" x2="257.3" y2="422.5" stroke="#0a0a0a" stroke-width="2.3" stroke-linecap="butt"/>
<line x1="251.15" y1="422.5" x2="263.45" y2="422.5" stroke="#0a0a0a" stroke-width="1.8" stroke-linecap="butt"/>
<line x1="269.9" y1="430.9" x2="269.9" y2="412.5" stroke="#0a0a0a" stroke-width="2.3" stroke-linecap="butt"/>
<line x1="263.75" y1="412.5" x2="276.04999999999995" y2="412.5" stroke="#0a0a0a" stroke-width="1.8" stroke-linecap="butt"/>
<line x1="283.55" y1="393.5" x2="283.55" y2="370.6" stroke="#0a0a0a" stroke-width="2.3" stroke-linecap="butt"/>
<line x1="277.40000000000003" y1="370.6" x2="289.7" y2="370.6" stroke="#0a0a0a" stroke-width="1.8" stroke-linecap="butt"/>
<line x1="296.3" y1="387.6" x2="296.3" y2="365.3" stroke="#0a0a0a" stroke-width="2.3" stroke-linecap="butt"/>
<line x1="290.15000000000003" y1="365.3" x2="302.45" y2="365.3" stroke="#0a0a0a" stroke-width="1.8" stroke-linecap="butt"/>
<line x1="309.65" y1="390.6" x2="309.65" y2="366.4" stroke="#0a0a0a" stroke-width="2.3" stroke-linecap="butt"/>
<line x1="303.5" y1="366.4" x2="315.79999999999995" y2="366.4" stroke="#0a0a0a" stroke-width="1.8" stroke-linecap="butt"/>
<rect x="251.60" y="438.40" width="11.40" height="50.60" fill="#fff" stroke="#0a0a0a" stroke-width="2"/>
<rect x="264.00" y="430.90" width="11.80" height="58.10" fill="#fff" stroke="#0a0a0a" stroke-width="2"/>
<rect x="276.30" y="392.50" width="14.50" height="96.50" fill="#0a0a0a"/>
<rect x="290.70" y="387.70" width="11.20" height="101.30" fill="url(#hatchD)" stroke="#0a0a0a" stroke-width="2.2"/>
<rect x="303.10" y="390.70" width="13.10" height="98.30" fill="url(#back)" stroke="#0a0a0a" stroke-width="2.2"/>
<rect x="259.80" y="283.50" width="6.40" height="6.40" fill="#fff" stroke="#0a0a0a" stroke-width="3.0"/>
<rect x="259.80" y="300.10" width="6.40" height="6.40" fill="#fff" stroke="#0a0a0a" stroke-width="3.0"/>
<rect x="258.20" y="314.00" width="9.60" height="9.00" fill="#0a0a0a"/>
<rect x="258.30" y="330.20" width="9.40" height="9.40" fill="#0a0a0a"/>
<rect x="261.40" y="332.40" width="2.20" height="2.20" fill="#fff"/>
<rect x="264.60" y="335.80" width="1.50" height="1.50" fill="#fff"/>
<rect x="259.80" y="348.10" width="6.40" height="6.40" fill="#fff" stroke="#0a0a0a" stroke-width="3.0"/>
<text x="270.3" y="291.8" font-size="12.5" text-anchor="start" font-weight="normal" stroke="#0a0a0a" stroke-width="0.75">Saline</text>
<text x="270.3" y="308" font-size="12.5" text-anchor="start" font-weight="normal" stroke="#0a0a0a" stroke-width="0.75">LPS</text>
<text x="270.3" y="323.7" font-size="12.5" text-anchor="start" font-weight="normal" stroke="#0a0a0a" stroke-width="0.75">P-Se</text>
<text x="270.3" y="339.6" font-size="12.5" text-anchor="start" font-weight="normal" stroke="#0a0a0a" stroke-width="0.75">LMWH</text>
<text x="270.3" y="356" font-size="12.5" text-anchor="start" font-weight="normal" stroke="#0a0a0a" stroke-width="0.75">Fucoidin</text>
<text transform="translate(349.4 295.6) scale(1.05 1)" font-size="24.3" font-weight="bold" stroke="#0a0a0a" stroke-width="0.4">E</text>
<line x1="393.2" y1="286.6" x2="393.2" y2="483.1" stroke="#0a0a0a" stroke-width="2.3" stroke-linecap="butt"/>
<line x1="389.2" y1="482.1" x2="520" y2="482.1" stroke="#0a0a0a" stroke-width="2.3" stroke-linecap="butt"/>
<line x1="388.7" y1="287.6" x2="393.2" y2="287.6" stroke="#0a0a0a" stroke-width="2" stroke-linecap="butt"/>
<text x="383.8" y="290.70000000000005" font-size="11.5" text-anchor="end" font-weight="bold" stroke="#0a0a0a" stroke-width="0.3">5</text>
<line x1="388.7" y1="326.5" x2="393.2" y2="326.5" stroke="#0a0a0a" stroke-width="2" stroke-linecap="butt"/>
<text x="383.8" y="329.6" font-size="11.5" text-anchor="end" font-weight="bold" stroke="#0a0a0a" stroke-width="0.3">4</text>
<line x1="388.7" y1="365.4" x2="393.2" y2="365.4" stroke="#0a0a0a" stroke-width="2" stroke-linecap="butt"/>
<text x="383.8" y="368.5" font-size="11.5" text-anchor="end" font-weight="bold" stroke="#0a0a0a" stroke-width="0.3">3</text>
<line x1="388.7" y1="404.3" x2="393.2" y2="404.3" stroke="#0a0a0a" stroke-width="2" stroke-linecap="butt"/>
<text x="383.8" y="407.40000000000003" font-size="11.5" text-anchor="end" font-weight="bold" stroke="#0a0a0a" stroke-width="0.3">2</text>
<line x1="388.7" y1="443.2" x2="393.2" y2="443.2" stroke="#0a0a0a" stroke-width="2" stroke-linecap="butt"/>
<text x="383.8" y="446.3" font-size="11.5" text-anchor="end" font-weight="bold" stroke="#0a0a0a" stroke-width="0.3">1</text>
<line x1="388.7" y1="482.1" x2="393.2" y2="482.1" stroke="#0a0a0a" stroke-width="2" stroke-linecap="butt"/>
<text x="383.8" y="485.20000000000005" font-size="11.5" text-anchor="end" font-weight="bold" stroke="#0a0a0a" stroke-width="0.3">0</text>
<line x1="418.6" y1="477.8" x2="418.6" y2="487.40000000000003" stroke="#0a0a0a" stroke-width="2.2" stroke-linecap="butt"/>
<line x1="443.8" y1="477.8" x2="443.8" y2="487.40000000000003" stroke="#0a0a0a" stroke-width="2.2" stroke-linecap="butt"/>
<line x1="469" y1="477.8" x2="469" y2="487.40000000000003" stroke="#0a0a0a" stroke-width="2.2" stroke-linecap="butt"/>
<line x1="494.2" y1="477.8" x2="494.2" y2="487.40000000000003" stroke="#0a0a0a" stroke-width="2.2" stroke-linecap="butt"/>
<line x1="519.3" y1="477.8" x2="519.3" y2="487.40000000000003" stroke="#0a0a0a" stroke-width="2.2" stroke-linecap="butt"/>
<line x1="393.2" y1="482.1" x2="393.2" y2="487.40000000000003" stroke="#0a0a0a" stroke-width="2.2" stroke-linecap="butt"/>
<text x="405.3" y="503.3" font-size="12.2" text-anchor="middle" font-weight="bold" stroke="#0a0a0a" stroke-width="0.3">0</text>
<text x="430.5" y="503.3" font-size="12.2" text-anchor="middle" font-weight="bold" stroke="#0a0a0a" stroke-width="0.3">1</text>
<text x="455.2" y="503.3" font-size="12.2" text-anchor="middle" font-weight="bold" stroke="#0a0a0a" stroke-width="0.3">3</text>
<text x="480" y="503.3" font-size="12.2" text-anchor="middle" font-weight="bold" stroke="#0a0a0a" stroke-width="0.3">6</text>
<text x="505.3" y="503.3" font-size="12.2" text-anchor="middle" font-weight="bold" stroke="#0a0a0a" stroke-width="0.3">12</text>
<text x="455.3" y="520.2" font-size="11.5" text-anchor="middle" font-weight="bold" stroke="#0a0a0a" stroke-width="0.3">Time (h)</text>
<text x="365" y="386.5" font-size="11" text-anchor="middle" font-weight="bold" stroke="#0a0a0a" stroke-width="0.3" transform="rotate(-90 365 386.5)">%TUNEL<tspan font-size="9" dy="-6.5">+</tspan><tspan dy="6.5"> cells</tspan></text>
<line x1="405.3" y1="463.5" x2="405.3" y2="455.7" stroke="#0a0a0a" stroke-width="1.1" stroke-linecap="butt"/>
<line x1="399.8" y1="455.7" x2="410.8" y2="455.7" stroke="#0a0a0a" stroke-width="1.1" stroke-linecap="butt"/>
<line x1="430.5" y1="462.3" x2="430.5" y2="451.6" stroke="#0a0a0a" stroke-width="1.1" stroke-linecap="butt"/>
<line x1="425.0" y1="451.6" x2="436.0" y2="451.6" stroke="#0a0a0a" stroke-width="1.1" stroke-linecap="butt"/>
<line x1="455.2" y1="429" x2="455.2" y2="412.3" stroke="#0a0a0a" stroke-width="1.1" stroke-linecap="butt"/>
<line x1="449.7" y1="412.3" x2="460.7" y2="412.3" stroke="#0a0a0a" stroke-width="1.1" stroke-linecap="butt"/>
<line x1="480" y1="369.3" x2="480" y2="346.8" stroke="#0a0a0a" stroke-width="1.1" stroke-linecap="butt"/>
<line x1="474.5" y1="346.8" x2="485.5" y2="346.8" stroke="#0a0a0a" stroke-width="1.1" stroke-linecap="butt"/>
<line x1="505.3" y1="445.6" x2="505.3" y2="430.2" stroke="#0a0a0a" stroke-width="1.1" stroke-linecap="butt"/>
<line x1="499.8" y1="430.2" x2="510.8" y2="430.2" stroke="#0a0a0a" stroke-width="1.1" stroke-linecap="butt"/>
<line x1="480" y1="464" x2="480" y2="457.6" stroke="#0a0a0a" stroke-width="1.1" stroke-linecap="butt"/>
<line x1="475" y1="457.6" x2="485" y2="457.6" stroke="#0a0a0a" stroke-width="1.1" stroke-linecap="butt"/>
<line x1="455.2" y1="470" x2="455.2" y2="467.3" stroke="#0a0a0a" stroke-width="1.1" stroke-linecap="butt"/>
<line x1="450.6" y1="467.3" x2="460.6" y2="467.3" stroke="#0a0a0a" stroke-width="1.3" stroke-linecap="butt"/>
<line x1="505.3" y1="467" x2="505.3" y2="462.6" stroke="#0a0a0a" stroke-width="1.1" stroke-linecap="butt"/>
<line x1="500.3" y1="462.6" x2="510.3" y2="462.6" stroke="#0a0a0a" stroke-width="1.3" stroke-linecap="butt"/>
<polyline points="405.3,463.5 430.5,462.3 455.2,429 480,369.3 505.3,445.6" fill="none" stroke="#0a0a0a" stroke-width="1.3"/>
<polyline points="405.3,467.5 430.5,466.8 455.2,470.6 480,464 505.3,467.3" fill="none" stroke="#0a0a0a" stroke-width="1.3"/>
<polyline points="405.3,470.6 430.5,472 455.2,477.6 480,469 505.3,471" fill="none" stroke="#0a0a0a" stroke-width="1.3"/>
<path d="M405.3 458.7L410.0 467.3L400.6 467.3Z" fill="#0a0a0a"/>
<path d="M430.5 457.5L435.2 466.1L425.8 466.1Z" fill="#0a0a0a"/>
<path d="M455.2 424.2L459.9 432.8L450.5 432.8Z" fill="#0a0a0a"/>
<path d="M480 364.5L484.7 373.1L475.3 373.1Z" fill="#0a0a0a"/>
<path d="M505.3 440.8L510.0 449.40000000000003L500.6 449.40000000000003Z" fill="#0a0a0a"/>
<circle cx="405.3" cy="467.5" r="4.3" fill="#0a0a0a"/>
<circle cx="430.5" cy="466.8" r="4.3" fill="#0a0a0a"/>
<circle cx="455.2" cy="470.6" r="4.3" fill="#0a0a0a"/>
<circle cx="480" cy="464" r="4.3" fill="#0a0a0a"/>
<circle cx="505.3" cy="467.3" r="4.3" fill="#0a0a0a"/>
<rect x="402.6" y="467.90000000000003" width="5.4" height="5.4" rx="1.6" fill="#fff" stroke="#0a0a0a" stroke-width="2.9"/>
<rect x="427.8" y="469.3" width="5.4" height="5.4" rx="1.6" fill="#fff" stroke="#0a0a0a" stroke-width="2.9"/>
<rect x="452.5" y="474.90000000000003" width="5.4" height="5.4" rx="1.6" fill="#fff" stroke="#0a0a0a" stroke-width="2.9"/>
<rect x="477.3" y="466.3" width="5.4" height="5.4" rx="1.6" fill="#fff" stroke="#0a0a0a" stroke-width="2.9"/>
<rect x="502.6" y="468.3" width="5.4" height="5.4" rx="1.6" fill="#fff" stroke="#0a0a0a" stroke-width="2.9"/>
<line x1="412.7" y1="296.5" x2="450.5" y2="296.5" stroke="#0a0a0a" stroke-width="1.1" stroke-linecap="butt"/>
<rect x="429.6" y="293.8" width="5.4" height="5.4" rx="1.6" fill="#fff" stroke="#0a0a0a" stroke-width="2.9"/>
<text x="454.5" y="300.9" font-size="12.5" text-anchor="start" font-weight="normal" stroke="#0a0a0a" stroke-width="0.75">Saline</text>
<line x1="412.7" y1="313.5" x2="450.5" y2="313.5" stroke="#0a0a0a" stroke-width="1.1" stroke-linecap="butt"/>
<circle cx="432.3" cy="313.5" r="4.3" fill="#0a0a0a"/>
<text x="454.5" y="317.9" font-size="12.5" text-anchor="start" font-weight="normal" stroke="#0a0a0a" stroke-width="0.75">LPS</text>
<line x1="412.7" y1="330.4" x2="450.5" y2="330.4" stroke="#0a0a0a" stroke-width="1.1" stroke-linecap="butt"/>
<path d="M432.3 325.59999999999997L437.0 334.2L427.6 334.2Z" fill="#0a0a0a"/>
<text x="454.5" y="334.79999999999995" font-size="12.5" text-anchor="start" font-weight="normal" stroke="#0a0a0a" stroke-width="0.75">GdÇl</text>
</g>
</svg>
</body>
</html>
